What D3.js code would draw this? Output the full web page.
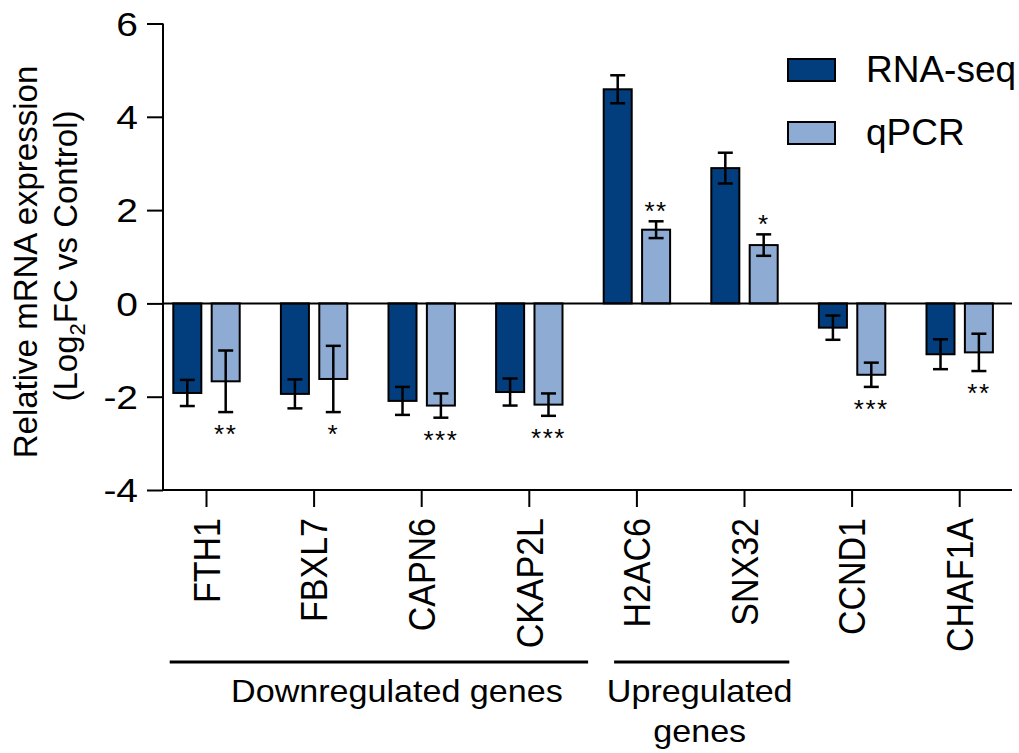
<!DOCTYPE html>
<html>
<head>
<meta charset="utf-8">
<script src="https://cdn.jsdelivr.net/npm/d3@7"></script>
<style>
  body { margin: 0; background: #fff; }
  text { font-family: "Liberation Sans", Arial, sans-serif; fill: #000; }
</style>
</head>
<body>
<div id="chart"></div>
<script>
// data
const genes = ["FTH1", "FBXL7", "CAPN6", "CKAP2L", "H2AC6", "SNX32", "CCND1", "CHAF1A"];
const series = ["RNA-seq", "qPCR"];
const rnaSeq = [-1.92, -1.94, -2.09, -1.90, 4.59, 2.90, -0.52, -1.09];
const rnaSeqErr = [0.28, 0.31, 0.30, 0.29, 0.30, 0.33, 0.26, 0.32];
const qpcr = [-1.67, -1.62, -2.19, -2.17, 1.58, 1.25, -1.53, -1.05];
const qpcrErr = [0.66, 0.71, 0.26, 0.24, 0.18, 0.23, 0.26, 0.40];
const qpcrStars = ["**", "*", "***", "***", "**", "*", "***", "**"];
const yTicks = [-4, -2, 0, 2, 4, 6];
const groupNames = [["Downregulated genes"], ["Upregulated", "genes"]];
const groupSpans = [["FTH1", "CKAP2L"], ["H2AC6", "SNX32"]];

const colors = {"RNA-seq": "#023e7d", "qPCR": "#8eabd3"};

const width = 1019;
const height = 753;
const axisX = 163;
const axisEnd = 1012;

const svg = d3.select("#chart").append("svg")
  .attr("width", width)
  .attr("height", height);

// scales
const y = d3.scaleLinear().domain([-4, 6]).range([490, 23.5]);
const x0 = d3.scaleBand().domain(genes).range([152.7, 1013.5]);
const x1 = d3.scaleBand().domain(series).range([0, 66.4]).paddingInner(0.27);

const rows = genes.map((g, i) => ({
  gene: g,
  bars: [
    {key: "RNA-seq", v: rnaSeq[i], e: rnaSeqErr[i], star: ""},
    {key: "qPCR", v: qpcr[i], e: qpcrErr[i], star: qpcrStars[i]}
  ]
}));

const barX = (g, k) => x0(g) + x0.bandwidth() / 2 - 33.2 + x1(k);

// bars
const grp = svg.append("g").selectAll("g")
  .data(rows)
  .join("g");

grp.selectAll("rect")
  .data(d => d.bars.map(b => ({...b, gene: d.gene})))
  .join("rect")
    .attr("x", d => barX(d.gene, d.key))
    .attr("width", x1.bandwidth())
    .attr("y", d => y(Math.max(0, d.v)))
    .attr("height", d => Math.abs(y(d.v) - y(0)))
    .attr("fill", d => colors[d.key])
    .attr("stroke", "#000")
    .attr("stroke-width", 2);

// error bars
const err = grp.selectAll("g.err")
  .data(d => d.bars.map(b => ({...b, gene: d.gene})))
  .join("g")
    .attr("class", "err")
    .attr("transform", d => `translate(${barX(d.gene, d.key) + x1.bandwidth() / 2},0)`)
    .attr("stroke", "#000")
    .attr("stroke-width", 2.5);

err.append("line")
  .attr("y1", d => y(d.v + d.e))
  .attr("y2", d => y(d.v - d.e));
err.append("line")
  .attr("x1", -7.5).attr("x2", 7.5)
  .attr("y1", d => y(d.v + d.e)).attr("y2", d => y(d.v + d.e));
err.append("line")
  .attr("x1", -7.5).attr("x2", 7.5)
  .attr("y1", d => y(d.v - d.e)).attr("y2", d => y(d.v - d.e));

// significance stars, beyond the error bar end
err.append("text")
  .attr("stroke", "none")
  .attr("text-anchor", "middle")
  .attr("font-size", 26)
  .attr("letter-spacing", 1.5)
  .attr("y", d => d.v >= 0 ? y(d.v + d.e) - 16 + 15 : y(d.v - d.e) + 16 + 15)
  .text(d => d.star);

// zero line
svg.append("line")
  .attr("x1", axisX).attr("x2", axisEnd)
  .attr("y1", y(0)).attr("y2", y(0))
  .attr("stroke", "#000").attr("stroke-width", 2);

// y axis
const yAxis = svg.append("g")
  .attr("transform", `translate(${axisX},0)`)
  .call(d3.axisLeft(y).tickValues(yTicks).tickSize(16).tickPadding(9).tickFormat(d => String(d)));
yAxis.select(".domain").attr("stroke-width", 2).attr("d", `M0,${y(6)}V${y(-4)}`);
yAxis.selectAll(".tick line").attr("stroke-width", 2);
yAxis.selectAll(".tick text")
  .attr("font-size", 33)
  .attr("font-family", "Liberation Sans, Arial, sans-serif")
  .attr("x", -25 / 1.18)
  .attr("transform", "scale(1.18,1)")
  .attr("dy", "0.36em");

// x axis
const xAxis = svg.append("g")
  .attr("transform", `translate(0,${y(-4)})`)
  .call(d3.axisBottom(x0).tickSize(17).tickSizeOuter(0).tickPadding(0));
xAxis.select(".domain").attr("stroke-width", 2).attr("d", `M${axisX},0H${axisEnd}`);
xAxis.selectAll(".tick line").attr("stroke-width", 2);
xAxis.selectAll(".tick text")
  .attr("font-size", 34)
  .attr("font-family", "Liberation Sans, Arial, sans-serif")
  .attr("text-anchor", "end")
  .attr("transform", "translate(0,28) rotate(-90) scale(1,1.06)")
  .attr("x", 0).attr("y", 0)
  .attr("dy", "0.37em");

// y title
const title = svg.append("g").attr("transform", "rotate(-90)");
title.append("text")
  .attr("x", -262).attr("y", 37)
  .attr("text-anchor", "middle")
  .attr("font-size", 33)
  .text("Relative mRNA expression");
const t2 = title.append("text")
  .attr("x", -256).attr("y", 77)
  .attr("text-anchor", "middle")
  .attr("font-size", 33);
t2.append("tspan").text("(Log");
t2.append("tspan").attr("font-size", 22).attr("dy", 8).text("2");
t2.append("tspan").attr("dy", -8).text("FC vs Control)");

// gene groups under the axis
const groupPad = [[17, 5], [31, -9]];
const groupTextShift = [18, -2];
const sx = 1.1; // the source lettering is a little wider than Arial
groupSpans.forEach(([a, b], i) => {
  const gx1 = x0(a) + groupPad[i][0];
  const gx2 = x0(b) + x0.bandwidth() + groupPad[i][1];
  svg.append("line")
    .attr("x1", gx1).attr("x2", gx2)
    .attr("y1", 662).attr("y2", 662)
    .attr("stroke", "#000").attr("stroke-width", 3);
  svg.append("text")
    .attr("text-anchor", "middle")
    .attr("font-size", 31)
    .attr("transform", `scale(${sx},1)`)
    .selectAll("tspan")
    .data(groupNames[i])
    .join("tspan")
      .attr("x", ((gx1 + gx2) / 2 + groupTextShift[i]) / sx)
      .attr("y", (d, j) => 702 + j * 40)
      .text(d => d);
});

// legend
const legend = svg.append("g").selectAll("g")
  .data(series)
  .join("g")
    .attr("transform", (d, i) => `translate(788,${59 + i * 63})`);
legend.append("rect")
  .attr("width", 47).attr("height", 22)
  .attr("fill", d => colors[d])
  .attr("stroke", "#000").attr("stroke-width", 2);
legend.append("text")
  .attr("x", 78).attr("y", 22.5)
  .attr("font-size", 37)
  .text(d => d);
</script>
</body>
</html>
